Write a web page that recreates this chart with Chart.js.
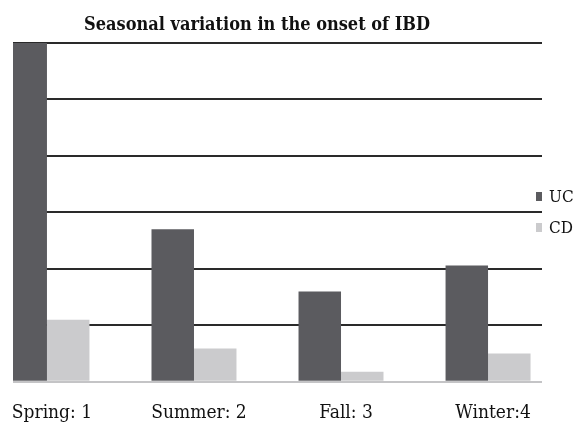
<!DOCTYPE html>
<html><head><meta charset="utf-8">
<script src="https://cdn.jsdelivr.net/npm/chart.js@4/dist/chart.umd.min.js"></script>
<style>html,body{margin:0;padding:0;background:#fff}#wrap{width:573px;height:424px}</style>
</head><body><div id="wrap"><canvas id="c"></canvas></div>
<script>
const categories = ["Spring: 1", "Summer: 2", "Fall: 3", "Winter:4"];
const seriesNames = ["UC", "CD"];
const ucValues = [6.4, 2.70, 1.60, 2.06];
const cdValues = [1.10, 0.59, 0.18, 0.50];
const yTicks = [0, 1, 2, 3, 4, 5, 6];
const colors = ["#5b5b5f", "#cbcbcd"];
const titleText = 'Seasonal variation in the onset of IBD';
const FONT = "'DejaVu Serif Condensed', 'DejaVu Serif', serif";

const legendPlugin = {
  id: 'sideLegend',
  afterDraw(chart) {
    const ctx = chart.ctx;
    const ca = chart.chartArea;
    ctx.save();
    ctx.font = "bold 18px " + FONT;
    ctx.fillStyle = '#111';
    ctx.textAlign = 'center';
    ctx.textBaseline = 'alphabetic';
    ctx.fillText(titleText, 257, 30);
    ctx.textAlign = 'left';
    ctx.font = "17px " + FONT;
    chart.data.datasets.forEach((ds, i) => {
      const y = 196 + i * 31;
      ctx.fillStyle = ds.backgroundColor;
      ctx.fillRect(ca.right - 6, y - 4, 6, 9);
      ctx.fillStyle = '#111';
      ctx.fillText(ds.label, ca.right + 7, y + 6);
    });
    ctx.restore();
  }
};

new Chart(document.getElementById('c'), {
  type: 'bar',
  data: {
    datasets: [
      { label: seriesNames[0], data: ucValues.map((v, i) => ({x: i, y: v})), backgroundColor: colors[0] },
      { label: seriesNames[1], data: cdValues.map((v, i) => ({x: i, y: v})), backgroundColor: colors[1] }
    ]
  },
  options: {
    responsive: true,
    maintainAspectRatio: false,
    animation: false,
    layout: { padding: { left: 13, right: 31, top: 43, bottom: -12.6 } },
    datasets: { bar: { categoryPercentage: 0.578, barPercentage: 1.0 } },
    plugins: {
      legend: { display: false },
      tooltip: { enabled: false },
      title: { display: false }
    },
    scales: {
      x: {
        type: 'linear',
        offset: false,
        min: -0.231, max: 3.367,
        afterBuildTicks(scale) { scale.ticks = categories.map((c, i) => ({ value: i })); },
        afterFit(scale) { scale.paddingLeft = 0; scale.paddingRight = 0; },
        grid: { display: false, offset: false },
        border: { display: false },
        ticks: {
          color: '#111',
          font: { family: FONT, size: 19 },
          padding: 12,
          labelOffset: 5,
          callback: (v) => categories[v]
        }
      },
      y: {
        min: 0, max: 6,
        afterBuildTicks(scale) { scale.ticks = yTicks.map(v => ({ value: v })); },
        grid: {
          color: (c) => (c.tick && c.tick.value === 0) ? '#c4c4c6' : '#2a2a2a',
          lineWidth: 2,
          drawTicks: false
        },
        border: { display: false },
        ticks: { display: false }
      }
    }
  },
  plugins: [legendPlugin]
});
</script></body></html>
